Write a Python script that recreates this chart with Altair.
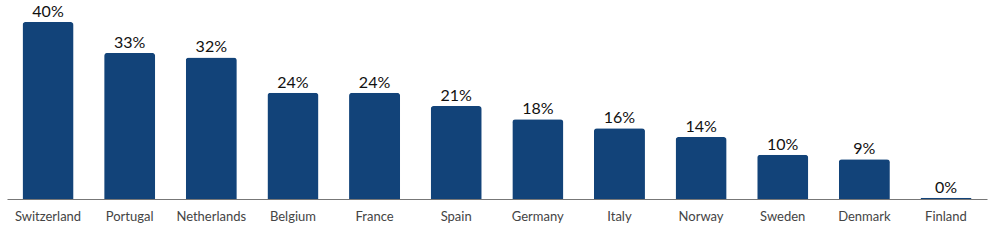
import altair as alt
import pandas as pd

countries = ["Switzerland", "Portugal", "Netherlands", "Belgium", "France", "Spain",
             "Germany", "Italy", "Norway", "Sweden", "Denmark", "Finland"]
values = [40, 33, 32, 24, 24, 21, 18, 16, 14, 10, 9, 0.3]
labels = ["40%", "33%", "32%", "24%", "24%", "21%", "18%", "16%", "14%", "10%", "9%", "0%"]

df = pd.DataFrame({"country": countries, "value": values, "label": labels})

FONT = "Lato"

x = alt.X("country:N", sort=countries, title=None,
          scale=alt.Scale(paddingInner=0.375, paddingOuter=0.19),
          axis=alt.Axis(labelAngle=0, labelFont=FONT, labelFontSize=13, labelColor="#444444",
                        labelPadding=11, ticks=False, domainColor="#777777", domainWidth=1.2))
y = alt.Y("value:Q", title=None, scale=alt.Scale(domain=[0, 40], nice=False),
          axis=None)

bars = alt.Chart(df).mark_bar(color="#124379", cornerRadiusTopLeft=3,
                              cornerRadiusTopRight=3).encode(x=x, y=y)
text = alt.Chart(df).mark_text(baseline="alphabetic", dy=-5, font=FONT, fontSize=16,
                               color="#111111").encode(x=x, y=y, text="label:N")

chart = (bars + text).properties(
    width=980, height=177,
    padding={"left": 7, "top": 22, "right": 3, "bottom": 47},
    autosize=alt.AutoSizeParams(type="none"),
).configure_view(stroke=None)

chart.save("out.html", embed_options={"renderer": "svg", "actions": False})
